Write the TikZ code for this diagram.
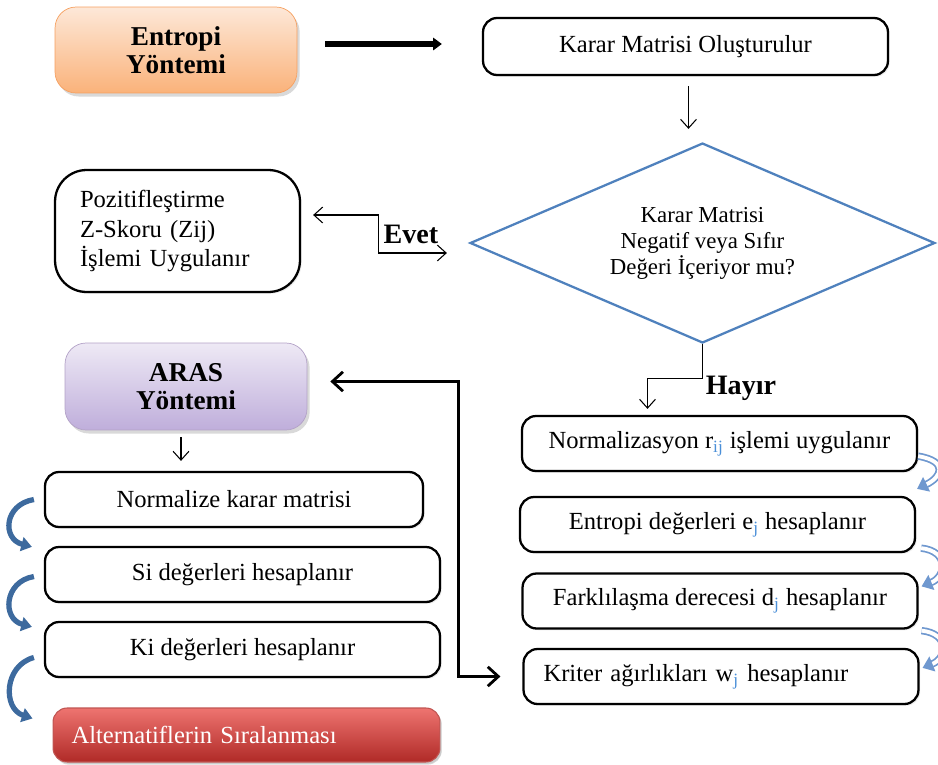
\documentclass[tikz,border=0pt]{standalone}
\usepackage{fontspec}
\setmainfont{Liberation Serif}
\usepackage{xcolor}
\usepackage{tikz}
\usetikzlibrary{arrows.meta,shapes.geometric,shadows,calc}
\definecolor{orlight}{HTML}{FDE8D8}
\definecolor{ordark}{HTML}{FAB27A}
\definecolor{orline}{HTML}{F6A060}
\definecolor{pulight}{HTML}{EEE9F5}
\definecolor{pudark}{HTML}{BFAEDB}
\definecolor{puline}{HTML}{B3A2C7}
\definecolor{relight}{HTML}{EE7470}
\definecolor{redark}{HTML}{B02A27}
\definecolor{diablue}{HTML}{4F81BD}
\definecolor{curvleft}{HTML}{3D6A9E}
\definecolor{curvright}{HTML}{6F98CF}
\definecolor{subblue}{HTML}{4A8FD8}

\tikzset{
	stepbox/.style={draw,fill=white,line width=1.3pt,rounded corners=8pt,minimum width=7.9cm,minimum height=1.1cm,inner sep=2pt,
		font=\fontsize{14pt}{16pt}\selectfont,drop shadow={opacity=0.15,shadow xshift=1pt,shadow yshift=-1pt}},
	method/.style={rounded corners=12pt,minimum width=4.84cm,minimum height=1.72cm,align=center,
		font=\fontsize{15.5pt}{16pt}\selectfont\bfseries,drop shadow={opacity=0.3,shadow xshift=1.5pt,shadow yshift=-2pt}},
	lbl/.style={font=\fontsize{16pt}{18pt}\selectfont\bfseries},
	thinarr/.style={line width=0.6pt,>={Straight Barb[length=5pt,width=9pt]}},
	loopl/.style={draw=curvleft,line width=3pt,-{Triangle[length=6pt,width=8pt]}},
	loopr/.style={draw=curvright,double=white,double distance=2.2pt,line width=1pt,-{Triangle[length=6pt,width=9pt]}},
}

\begin{document}
\begin{tikzpicture}[x=0.02cm,y=-0.02cm]
	\useasboundingbox (0,0) rectangle (938,765);
	% entropi side
	\node[method,top color=orlight,bottom color=ordark,draw=orline] (ent) at (176,50) {Entropi\\Yöntemi};
	\node[stepbox,minimum width=8.1cm,minimum height=1.14cm] (kar) at (685.5,46.5) {Karar Matrisi Oluşturulur};
	\node[diamond,draw=diablue,line width=1.3pt,minimum width=9.3cm,minimum height=4cm,aspect=2.3,inner sep=0pt,
		align=center,font=\fontsize{13pt}{14.8pt}\selectfont] (dia) at (702.5,243) {Karar Matrisi\\Negatif veya Sıfır\\Değeri İçeriyor mu?};
	\node[stepbox,minimum width=4.9cm,minimum height=2.44cm,rounded corners=18pt,text width=3.9cm,align=left,
		font=\fontsize{14pt}{16.8pt}\selectfont] (poz) at (177.5,231) {Pozitifleştirme\\Z-Skoru (Zij)\\İşlemi Uygulanır};
	%
	\node[stepbox] (nor) at (719.5,443.5) {Normalizasyon r\textsubscript{\color{subblue}ij} işlemi uygulanır};
	\node[stepbox] (entr) at (717.5,524.5) {Entropi değerleri e\textsubscript{\color{subblue}j} hesaplanır};
	\node[stepbox] (fark) at (720,601) {Farklılaşma derecesi d\textsubscript{\color{subblue}j} hesaplanır};
	\node[stepbox,text width=7.1cm,align=left] (krit) at (721,676.5) {Kriter ağırlıkları w\textsubscript{\color{subblue}j} hesaplanır};
	% aras side
	\node[method,top color=pulight,bottom color=pudark,draw=puline,minimum height=1.74cm] (aras) at (186,386.5) {ARAS\\Yöntemi};
	\node[stepbox,minimum width=7.56cm] (lnorm) at (234,499.5) {Normalize karar matrisi};
	\node[stepbox] (si) at (242.5,574.5) {Si değerleri hesaplanır};
	\node[stepbox] (ki) at (242.5,649.5) {Ki değerleri hesaplanır};
	\node[stepbox,draw=redark!80,line width=0.6pt,top color=relight,bottom color=redark,minimum width=7.74cm,minimum height=1.08cm,
		text width=7cm,align=left,text=white,drop shadow={opacity=0.3,shadow xshift=1pt,shadow yshift=-1.5pt}] (alt) at (246.5,735) {Alternatiflerin Sıralanması};
	%
	\node[lbl] (evet) at (411,234) {Evet};
	\node[lbl] (hayir) at (741,388) {Hayır};
	% connectors
	\draw[line width=3pt,-{Triangle[length=5pt,width=7pt]}] ([shift={(28,-6)}]ent.east) -- ([shift={(-40,-2.5)}]kar.west);
	\draw[thinarr,->] ([shift={(3,10)}]kar.south) -- ($(kar.south |- dia.north)+(3,-13)$);
	\draw[thinarr,<->] ([shift={(12,-16)}]poz.east) -| ($(dia.west)+(-90,10)$) -- ($(dia.west)+(-22,10)$);
	\draw[thinarr,->] (dia.south) -- ++(0,34) -| ([shift={(-72,-6)}]nor.north);
	\draw[line width=1.6pt,<->,>={Straight Barb[length=6pt,width=11pt]}] ([shift={(23,-5)}]aras.east) -| ([shift={(-64,0)}]krit.west) -- ([shift={(-22,0)}]krit.west);
	\draw[thinarr,->] ([shift={(-5,7)}]aras.south) -- ($(aras.south |- lnorm.north)+(-5,-10)$);
	%
	\draw[loopl] ([shift={(-10,0)}]lnorm.west) .. controls +(-30,5) and +(-30,-8) .. ([shift={(-12,1)}]si.north west);
	\draw[loopl] ([shift={(-10,2)}]si.west) .. controls +(-30,5) and +(-30,-8) .. ([shift={(-12,6)}]ki.north west);
	\draw[loopl] ([shift={(-10,8)}]ki.west) .. controls +(-30,8) and +(-30,-10) .. ([shift={(-20,11)}]alt.north west);
	%
	\draw[loopr] ([shift={(0,-16)}]nor.south east) .. controls +(30,5) and +(25,-12) .. ([shift={(1,-7)}]entr.north east);
	\draw[loopr] ([shift={(5,-5)}]entr.south east) .. controls +(28,3) and +(25,-10) .. ([shift={(3,14)}]fark.north east);
	\draw[loopr] ([shift={(3,1)}]fark.south east) .. controls +(28,3) and +(25,-10) .. ([shift={(3,20)}]krit.north east);
\end{tikzpicture}
\end{document}
